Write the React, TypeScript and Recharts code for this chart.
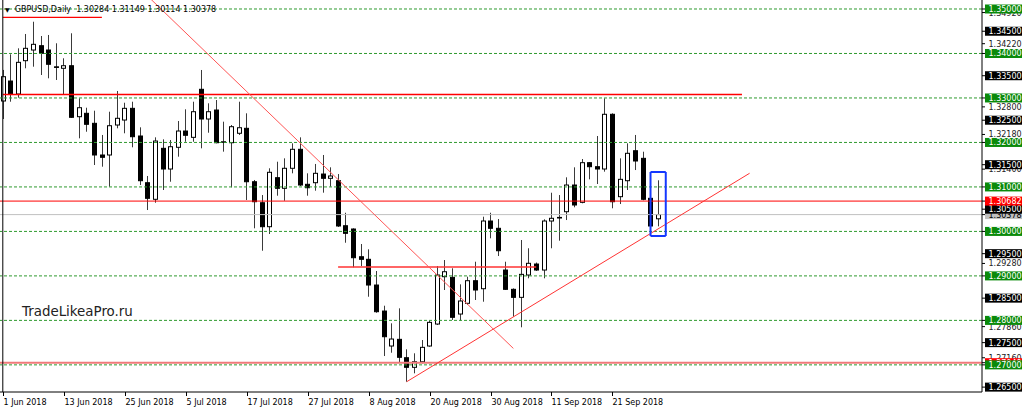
import { ComposedChart, Bar, XAxis, YAxis, ReferenceLine } from "recharts";

// GBPUSD daily candles, 1 Jun 2018 .. 27 Sep 2018
const opens = [
  1.32932, 1.33381, 1.33089, 1.33838, 1.34078, 1.34175, 1.34078, 1.337, 1.33667, 1.33725,
  1.32579, 1.32655, 1.3243, 1.31718, 1.31718, 1.32392, 1.32504, 1.32767, 1.32145, 1.31095,
  1.30722, 1.31868, 1.31403, 1.31891, 1.32257, 1.32115, 1.33195, 1.32527, 1.32729, 1.32005,
  1.31994, 1.32206, 1.32318, 1.31117, 1.30645, 1.30106, 1.31208, 1.30969, 1.31419, 1.31846,
  1.31059, 1.31095, 1.3129, 1.31194, 1.3114, 1.30128, 1.30054, 1.29431, 1.29373, 1.28795,
  1.2821, 1.27424, 1.27574, 1.27161, 1.26945, 1.2707, 1.27424, 1.27918, 1.28982, 1.28968,
  1.28143, 1.28384, 1.28892, 1.28712, 1.30234, 1.3007, 1.29132, 1.28698, 1.28518, 1.2902,
  1.29267, 1.29132, 1.30234, 1.30315, 1.30443, 1.31043, 1.30654, 1.31545, 1.31455, 1.31403,
  1.32633, 1.30781, 1.3114, 1.31814, 1.31643, 1.30744, 1.30284,
];
const highs = [
  1.3363, 1.33981, 1.34116, 1.34438, 1.34714, 1.34393, 1.34416, 1.34229, 1.33892, 1.34454,
  1.32992, 1.32781, 1.32714, 1.32168, 1.32691, 1.33157, 1.32893, 1.32916, 1.3234, 1.31246,
  1.32115, 1.3207, 1.32055, 1.32482, 1.32745, 1.32916, 1.33629, 1.3288, 1.32954, 1.32467,
  1.32392, 1.32916, 1.32655, 1.31156, 1.30818, 1.31419, 1.31567, 1.31643, 1.3198, 1.32115,
  1.31306, 1.31516, 1.31718, 1.31441, 1.3129, 1.3042, 1.3007, 1.29717, 1.29598, 1.2911,
  1.2833, 1.27934, 1.28271, 1.2735, 1.2726, 1.27559, 1.27993, 1.29222, 1.29357, 1.29171,
  1.2881, 1.28982, 1.29319, 1.30331, 1.3042, 1.30279, 1.29319, 1.2872, 1.29807, 1.29621,
  1.293, 1.30272, 1.3087, 1.30818, 1.31216, 1.31441, 1.31628, 1.3156, 1.32145, 1.32992,
  1.32655, 1.31643, 1.3198, 1.32168, 1.31792, 1.3076, 1.31149,
];
const lows = [
  1.32527, 1.32916, 1.33006, 1.33667, 1.33703, 1.33516, 1.33442, 1.33404, 1.33082, 1.3255,
  1.32093, 1.32241, 1.31493, 1.31455, 1.31005, 1.32318, 1.32206, 1.31891, 1.31043, 1.30481,
  1.30645, 1.30931, 1.31117, 1.3168, 1.32016, 1.32016, 1.31868, 1.32219, 1.3198, 1.31793,
  1.30991, 1.32168, 1.30706, 1.3007, 1.29566, 1.29942, 1.30803, 1.3069, 1.31306, 1.31021,
  1.30803, 1.30916, 1.30871, 1.31005, 1.301, 1.29746, 1.29193, 1.29222, 1.28532, 1.28172,
  1.27199, 1.27273, 1.27048, 1.26621, 1.2681, 1.27034, 1.27408, 1.27896, 1.28683, 1.2801,
  1.27993, 1.28346, 1.28458, 1.2842, 1.29845, 1.29447, 1.28683, 1.28083, 1.27845, 1.28946,
  1.2911, 1.28946, 1.29621, 1.29791, 1.30256, 1.30542, 1.30632, 1.31171, 1.31066, 1.31343,
  1.3052, 1.30616, 1.30931, 1.3138, 1.307, 1.3011, 1.30114,
];
const closes = [
  1.33478, 1.33089, 1.33801, 1.34116, 1.34206, 1.34004, 1.33757, 1.33689, 1.33725, 1.32565,
  1.32781, 1.32408, 1.31718, 1.31666, 1.32376, 1.32543, 1.32767, 1.32129, 1.3114, 1.30744,
  1.32032, 1.31403, 1.31904, 1.32257, 1.32161, 1.32691, 1.32527, 1.32691, 1.31994, 1.32016,
  1.32354, 1.32331, 1.31117, 1.30668, 1.30106, 1.31329, 1.30969, 1.31419, 1.31846, 1.31043,
  1.30982, 1.31306, 1.31194, 1.31246, 1.30122, 1.29957, 1.29409, 1.29373, 1.28795, 1.28195,
  1.27633, 1.27581, 1.2717, 1.26945, 1.2707, 1.27394, 1.27956, 1.2902, 1.29094, 1.28069,
  1.28436, 1.28892, 1.28683, 1.30234, 1.3007, 1.29566, 1.28698, 1.28518, 1.29035, 1.29283,
  1.29132, 1.30234, 1.30295, 1.30308, 1.31043, 1.30594, 1.31545, 1.31455, 1.31403, 1.32633,
  1.30668, 1.31171, 1.31756, 1.31583, 1.30722, 1.30122, 1.30378,
];

// bar slots across the whole window (empty slots to the right of the last bar)
const SLOTS = 129;

const dateTicks = [0, 8, 16, 24, 32, 40, 48, 56, 64, 72, 80];
const dateLabels = [
  "1 Jun 2018", "13 Jun 2018", "25 Jun 2018", "5 Jul 2018", "17 Jul 2018", "27 Jul 2018",
  "8 Aug 2018", "20 Aug 2018", "30 Aug 2018", "11 Sep 2018", "21 Sep 2018",
];

const priceMin = 1.263902;
const priceMax = 1.352023;

const greenLevels = [1.35, 1.34, 1.33, 1.32, 1.31, 1.3, 1.29, 1.28, 1.27];
const blackLabels = [1.345, 1.335, 1.325, 1.315, 1.305, 1.295, 1.285, 1.275, 1.265];
const greyLabels = [1.3492, 1.3422, 1.328, 1.3218, 1.314, 1.2928, 1.2786, 1.2716];
const bidPrice = 1.30378;
const redLevel = 1.30682;
const lowRedLine = 1.27049;

// trend lines: [barIndex, price] -> [barIndex, price]
const fallLine = [[19, 1.35291], [67, 1.2737]];
const riseLine = [[53, 1.26621], [98, 1.31307]];
const topShort = [[0, 1.34813], [13, 1.34813]];
const midFlat = [[0, 1.33078], [97, 1.33078]];
const augFlat = [[44, 1.292], [70, 1.292]];
const boxX = [85, 87];
const boxY = [1.29897, 1.31336];

const rows = Array.from({ length: SLOTS }, (_, i) =>
  i < opens.length
    ? { i, o: opens[i], h: highs[i], l: lows[i], c: closes[i] }
    : { i }
);

const FONT = "DejaVu Sans";

function Candle(props: any) {
  const { x, y, width, height, payload } = props;
  if (payload == null || payload.h === undefined || !isFinite(y)) return null;
  const top = Math.min(y, y + height);
  const bot = Math.max(y, y + height);
  const span = payload.h - payload.l;
  const py = (p: number) => (span === 0 ? top : top + ((payload.h - p) / span) * (bot - top));
  const cx = Math.round(x + width / 2) + 0.5;
  const bull = payload.c >= payload.o;
  const bt = py(Math.max(payload.o, payload.c));
  const bb = py(Math.min(payload.o, payload.c));
  return (
    <g>
      <line x1={cx} x2={cx} y1={top} y2={bot} stroke="#3a3a3a" strokeWidth={1} />
      <rect
        x={cx - 2}
        y={bt}
        width={4}
        height={Math.max(bb - bt, 0.6)}
        fill={bull ? "#fff" : "#000"}
        stroke="#000"
        strokeWidth={1}
      />
    </g>
  );
}

function DateTick(props: any) {
  const { x, y, payload } = props;
  const k = dateTicks.indexOf(payload.value);
  if (k < 0) return null;
  const tx = Math.round(x) + 0.5;
  return (
    <g>
      <line x1={tx} x2={tx} y1={y} y2={y + 4} stroke="#000" />
      <text x={tx} y={y + 12.6} fontSize={8} fontFamily={FONT} fill="#000">
        {dateLabels[k]}
      </text>
    </g>
  );
}

const near = (a: number, list: number[]) => list.some((b) => Math.abs(a - b) < 1e-7);

function PriceTick(props: any) {
  const { x, y, payload } = props;
  const v: number = payload.value;
  const text = v.toFixed(5);
  let bg: string | null = null;
  let fg = "#fff";
  if (near(v, greenLevels)) bg = "#0a8a0a";
  else if (near(v, blackLabels)) bg = "#000";
  else if (near(v, [redLevel, lowRedLine])) bg = "#f00";
  else if (Math.abs(v - bidPrice) < 1e-7) {
    bg = "#c0c0c0";
    fg = "#000";
  } else fg = "#222";
  return (
    <g>
      <line x1={x} x2={x + 3} y1={y} y2={y} stroke="#000" />
      {bg && <rect x={x + 3} y={y - 4.5} width={37} height={9} fill={bg} />}
      <text x={x + 6.5} y={y + 3} fontSize={8} fontFamily={FONT} fill={fg}>
        {text}
      </text>
    </g>
  );
}

// drawing order matters: later labels cover earlier ones, as on the terminal
const priceTicks = [
  ...greyLabels,
  bidPrice,
  lowRedLine,
  ...blackLabels,
  ...greenLevels,
  redLevel,
];

function seg(pts: number[][]) {
  return [
    { x: pts[0][0], y: pts[0][1] },
    { x: pts[1][0], y: pts[1][1] },
  ];
}

export default function App() {
  return (
    <div style={{ position: "absolute", left: 0, top: 0, width: 1024, height: 412, background: "#fff" }}>
      <ComposedChart width={1024} height={412} data={rows} margin={{ top: 0, right: 0, bottom: 0, left: -1 }}>
        <XAxis
          dataKey="i"
          type="category"
          ticks={dateTicks}
          interval={0}
          height={20}
          tickSize={0}
          tickMargin={0}
          tickLine={false}
          axisLine={{ stroke: "#000" }}
          tick={<DateTick />}
        />
        <YAxis
          orientation="right"
          type="number"
          domain={[priceMin, priceMax]}
          allowDataOverflow
          ticks={priceTicks}
          interval={0}
          width={42}
          tickSize={0}
          tickMargin={0}
          tickLine={false}
          axisLine={{ stroke: "#000" }}
          tick={<PriceTick />}
        />
        {greenLevels.map((g) => (
          <ReferenceLine key={g} y={g} stroke="#2f9a2f" strokeDasharray="3 2" />
        ))}
        <ReferenceLine y={bidPrice} stroke="#c0c0c0" />
        <ReferenceLine y={redLevel} stroke="#f00" />
        <ReferenceLine y={lowRedLine} stroke="#f07a7a" strokeWidth={2} />
        <ReferenceLine segment={seg(topShort)} stroke="#f00" strokeWidth={1.3} ifOverflow="hidden" />
        <ReferenceLine segment={seg(midFlat)} stroke="#f00" strokeWidth={1.3} ifOverflow="hidden" />
        <ReferenceLine segment={seg(augFlat)} stroke="#f33" strokeWidth={1.5} ifOverflow="hidden" />
        <ReferenceLine segment={seg(fallLine)} stroke="#f55" strokeWidth={1} ifOverflow="hidden" />
        <ReferenceLine segment={seg(riseLine)} stroke="#f33" strokeWidth={1} ifOverflow="hidden" />
        <ReferenceLine x={0} stroke="#000" />
        <Bar
          dataKey={(d: any) => (d.h === undefined ? null : [d.l, d.h])}
          barSize={5}
          shape={<Candle />}
          isAnimationActive={false}
        />
        <ReferenceLine segment={seg([[boxX[0], boxY[1]], [boxX[1], boxY[1]]])} stroke="#1438ff" strokeWidth={2} ifOverflow="hidden" />
        <ReferenceLine segment={seg([[boxX[0], boxY[0]], [boxX[1], boxY[0]]])} stroke="#1438ff" strokeWidth={2} ifOverflow="hidden" />
        <ReferenceLine segment={seg([[boxX[0], boxY[0]], [boxX[0], boxY[1]]])} stroke="#1438ff" strokeWidth={2} ifOverflow="hidden" />
        <ReferenceLine segment={seg([[boxX[1], boxY[0]], [boxX[1], boxY[1]]])} stroke="#1438ff" strokeWidth={2} ifOverflow="hidden" />
      </ComposedChart>
      <div
        style={{
          position: "absolute",
          left: 5,
          top: 4,
          fontFamily: FONT,
          fontSize: 8,
          lineHeight: "12px",
          color: "#000",
          whiteSpace: "pre",
        }}
      >
        <span style={{ fontSize: 6 }}>▼</span>
        {"  GBPUSD,Daily  1.30284 1.31149 1.30114 1.30378"}
      </div>
      <div
        style={{
          position: "absolute",
          left: 22,
          top: 303,
          fontFamily: FONT,
          fontSize: 13.4,
          lineHeight: "18px",
          color: "#222",
        }}
      >
        TradeLikeaPro.ru
      </div>
    </div>
  );
}
